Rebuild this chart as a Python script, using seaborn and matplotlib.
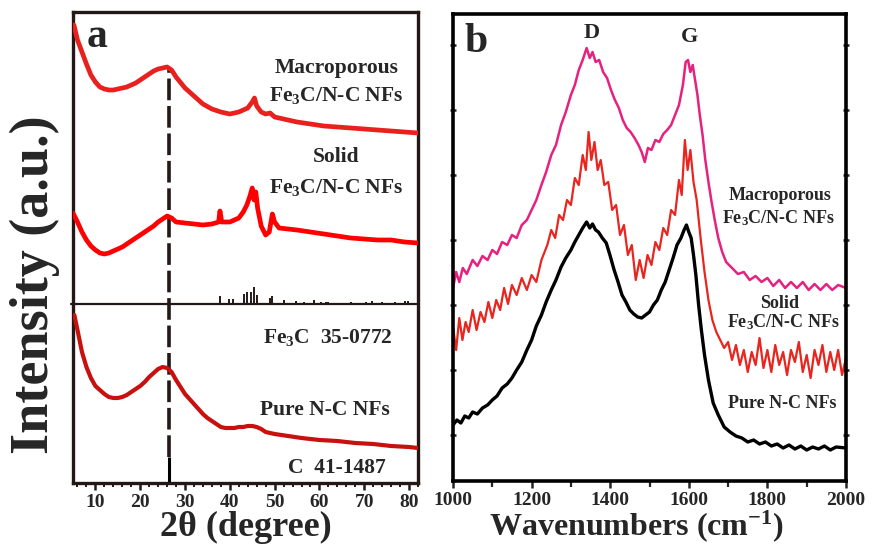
import matplotlib
matplotlib.use('Agg')
import matplotlib.pyplot as plt
import seaborn as sns
from matplotlib.ticker import MultipleLocator, NullFormatter

# ---- panel a: XRD (2theta in degree, intensity in a.u., curves stacked) ----
tt_macro = [5.2, 6, 7, 8, 9, 10, 11, 12, 13, 14, 15, 16, 17, 18, 19, 20, 21, 22, 23, 24, 25, 26,
            27, 28, 30, 32, 34, 36, 38, 40, 42, 43, 44, 45, 45.5, 46, 47, 48, 49, 50, 52, 55, 58,
            61, 64, 67, 70, 73, 76, 79, 82]
i_macro = [475, 460, 448, 436, 425, 418, 413, 411, 410, 410, 411, 412, 413, 415, 417, 420, 423, 426,
           429, 431, 432, 433, 430, 423, 412, 404, 396, 391, 388, 386, 388, 390, 392, 398, 402, 394,
           388, 386, 387, 383, 381, 378, 376, 374, 373, 372, 371, 370, 369, 368, 367]

tt_solid = [5, 6, 7, 8, 9, 10, 11, 12, 13, 14, 15, 16, 17, 18, 19, 20, 21, 22, 23, 24, 25, 26, 27,
            28, 30, 32, 34, 36, 37.5, 37.8, 38.2, 40, 41, 42, 43, 43.8, 44.5, 45, 45.4, 45.8, 46.2,
            47, 48, 48.8, 49.5, 50, 51, 53, 55, 58, 61, 64, 67, 70, 73, 76, 79, 82]
i_solid = [287, 278, 268, 260, 254, 250, 247, 246, 247, 249, 251, 253, 256, 259, 262, 265, 268, 271,
           274, 278, 281, 284, 282, 278, 277, 276, 275, 276, 278, 289, 278, 278, 280, 282, 288, 295,
           304, 312, 300, 308, 292, 274, 265, 268, 286, 278, 272, 271, 270, 268, 266, 264, 262, 261,
           260, 260, 258, 257]

tt_pure = [5.3, 6, 7, 8, 9, 10, 11, 12, 13, 14, 15, 16, 17, 18, 19, 20, 21, 22, 23, 24, 25, 26, 27,
           28, 29, 30, 31, 32, 33, 34, 35, 36, 37, 38, 39, 40, 41, 42, 43, 44, 45, 46, 47, 48, 50,
           53, 56, 60, 64, 68, 72, 76, 80, 82]
i_pure = [185, 170, 148, 133, 122, 114, 110, 106, 103, 102, 102, 103, 105, 108, 111, 114, 118, 123,
          127, 131, 133, 132, 128, 120, 113, 106, 101, 96, 91, 86, 82, 79, 76, 73, 72, 72, 72, 73,
          73, 74, 74, 73, 71, 68, 66, 64, 62, 60, 59, 57, 56, 54, 53, 52]

# Fe3C reference pattern 35-0772 (sticks on a baseline)
fe3c_pos = [35.3, 37.7, 39.8, 40.7, 43.1, 43.9, 44.7, 45.3, 46.1, 48.9, 49.5, 52.2, 54.8, 56.6, 58.7,
            60.4, 61.5, 62.0, 65.8, 67.1, 70.5, 71.7, 74.0, 76.8, 79.1, 79.7]
fe3c_h = [1, 8, 5, 5, 10, 12, 12, 17, 9, 6, 8, 4, 3, 2, 4, 2, 2, 2, 1, 2, 2, 3, 2, 2, 3, 3]
fe3c_base = 196
# C reference pattern 41-1487
c_pos = [26.5]
c_h = [26]
c_base = 17
dash_top = 430

# ---- panel b: Raman (wavenumber in cm-1, intensity in a.u., curves stacked) ----
wn_macro = [1000, 1008, 1016, 1025, 1035, 1050, 1062, 1075, 1088, 1100, 1112, 1125, 1138, 1150, 1162,
            1175, 1188, 1200, 1212, 1225, 1237, 1250, 1262, 1275, 1287, 1300, 1310, 1320, 1330, 1340,
            1348, 1355, 1363, 1372, 1382, 1392, 1402, 1412, 1422, 1432, 1442, 1452, 1462, 1472, 1480,
            1488, 1496, 1505, 1515, 1525, 1535, 1545, 1555, 1565, 1575, 1585, 1592, 1598, 1604, 1610,
            1616, 1622, 1628, 1635, 1642, 1650, 1658, 1666, 1675, 1685, 1695, 1710, 1725, 1740, 1755,
            1770, 1785, 1800, 1815, 1830, 1845, 1860, 1875, 1890, 1905, 1920, 1935, 1950, 1965, 1980,
            2000]
r_macro = [212, 228, 218, 232, 226, 240, 234, 244, 240, 250, 246, 258, 255, 265, 262, 275, 280, 290,
           300, 315, 328, 345, 355, 375, 388, 405, 415, 430, 440, 452, 442, 448, 438, 440, 428, 422,
           410, 400, 392, 380, 372, 368, 362, 355, 348, 338, 352, 350, 360, 358, 366, 370, 375, 385,
           395, 415, 438, 440, 428, 435, 420, 405, 385, 365, 340, 318, 298, 280, 262, 248, 238, 232,
           226, 228, 220, 224, 218, 222, 214, 220, 212, 218, 212, 218, 210, 216, 210, 216, 210, 215,
           212]

wn_solid = [1000, 1008, 1016, 1024, 1032, 1040, 1050, 1060, 1070, 1080, 1090, 1100, 1110, 1120, 1130,
            1140, 1150, 1162, 1175, 1188, 1200, 1212, 1225, 1240, 1250, 1260, 1270, 1280, 1290, 1300,
            1310, 1320, 1330, 1338, 1345, 1352, 1360, 1368, 1376, 1385, 1395, 1405, 1415, 1425, 1435,
            1445, 1455, 1465, 1475, 1485, 1495, 1505, 1515, 1525, 1535, 1545, 1555, 1565, 1575, 1582,
            1590, 1597, 1604, 1612, 1620, 1630, 1640, 1650, 1660, 1670, 1680, 1690, 1700, 1710, 1720,
            1730, 1740, 1750, 1760, 1770, 1780, 1790, 1800, 1810, 1820, 1830, 1840, 1850, 1860, 1870,
            1880, 1890, 1900, 1910, 1920, 1930, 1940, 1950, 1960, 1970, 1980, 1990, 2000]
r_solid = [173, 150, 182, 160, 178, 168, 190, 170, 188, 178, 198, 182, 200, 190, 212, 196, 215, 205,
           222, 210, 225, 218, 240, 255, 270, 262, 285, 280, 300, 295, 322, 315, 345, 330, 368, 340,
           358, 330, 340, 315, 318, 290, 295, 265, 275, 245, 255, 220, 240, 222, 245, 235, 258, 250,
           272, 265, 290, 285, 320, 305, 360, 330, 350, 318, 300, 262, 228, 200, 180, 168, 160, 152,
           158, 140, 155, 135, 150, 128, 148, 135, 162, 132, 150, 128, 155, 135, 148, 125, 150, 138,
           158, 128, 145, 122, 150, 135, 155, 128, 148, 130, 150, 125, 142]

wn_pure = [1000, 1010, 1020, 1030, 1040, 1050, 1062, 1075, 1088, 1100, 1112, 1125, 1138, 1150, 1162,
           1175, 1188, 1200, 1212, 1225, 1237, 1250, 1262, 1275, 1287, 1300, 1310, 1320, 1330, 1340,
           1348, 1355, 1363, 1370, 1380, 1390, 1400, 1410, 1420, 1430, 1440, 1450, 1460, 1470, 1480,
           1490, 1500, 1510, 1520, 1530, 1540, 1550, 1560, 1570, 1580, 1588, 1594, 1600, 1606, 1612,
           1618, 1625, 1632, 1640, 1650, 1662, 1675, 1690, 1705, 1720, 1735, 1750, 1765, 1780, 1795,
           1810, 1825, 1840, 1855, 1870, 1885, 1900, 1915, 1930, 1945, 1960, 1975, 2000]
r_pure = [75, 80, 77, 84, 82, 88, 86, 92, 95, 100, 104, 112, 116, 122, 130, 138, 150, 160, 174, 185,
          198, 210, 220, 233, 242, 250, 258, 265, 272, 278, 272, 276, 270, 268, 262, 257, 244, 230,
          218, 205, 198, 190, 186, 183, 182, 185, 188, 195, 200, 210, 218, 230, 242, 255, 262, 270,
          275, 268, 262, 245, 225, 195, 170, 145, 120, 97, 85, 73, 68, 64, 62, 58, 60, 56, 58, 54,
          56, 52, 55, 51, 54, 50, 53, 51, 54, 50, 53, 52]

sns.set_style('ticks')
plt.rcParams['font.family'] = ['Liberation Serif', 'DejaVu Serif']
plt.rcParams['font.weight'] = 'bold'
plt.rcParams['mathtext.fontset'] = 'custom'
plt.rcParams['mathtext.rm'] = 'Liberation Serif:bold'
plt.rcParams['mathtext.bf'] = 'Liberation Serif:bold'
plt.rcParams['mathtext.it'] = 'Liberation Serif:bold'
plt.rcParams['mathtext.default'] = 'bf'

fig = plt.figure(figsize=(8.73, 5.5), dpi=100)
ax1 = fig.add_axes([73 / 873, 67 / 550, 345 / 873, 471 / 550])
ax2 = fig.add_axes([453 / 873, 69 / 550, 393 / 873, 467 / 550])

# panel a
dark = '#231815'
ax1.vlines(c_pos[0], c_base + c_h[0], dash_top, color=dark, lw=2.6, linestyles=(0, (6, 1.6)), zorder=3)
sns.lineplot(x=tt_macro, y=i_macro, ax=ax1, color='#e8211f', lw=3.4, sort=False, zorder=4)
sns.lineplot(x=tt_solid, y=i_solid, ax=ax1, color='#ff0000', lw=3.4, sort=False, zorder=4)
sns.lineplot(x=tt_pure, y=i_pure, ax=ax1, color='#c8100e', lw=3.0, sort=False, zorder=4)
ax1.axhline(fe3c_base, color=dark, lw=1.6, clip_on=False, xmin=-0.006)
ax1.vlines(fe3c_pos, fe3c_base, [fe3c_base + h for h in fe3c_h], color=dark, lw=1.4)
ax1.vlines(c_pos, c_base, [c_base + h for h in c_h], color='black', lw=2.2)

ax1.set_xlim(5, 82)
ax1.set_ylim(17, 488)
ax1.xaxis.set_major_locator(MultipleLocator(10))
ax1.xaxis.set_minor_locator(MultipleLocator(2))
ax1.set_yticks([])
ax1.tick_params(axis='x', which='major', direction='out', length=5, width=1.8, labelsize=14,
                pad=3, color=dark)
ax1.tick_params(axis='x', which='minor', direction='out', length=3, width=1.4, color=dark)
for s in ax1.spines.values():
    s.set_linewidth(2.4)
    s.set_color(dark)
ax1.set_xlabel('2θ (degree)', fontsize=26, fontweight='bold', labelpad=0)

ax1.text(8.0, 463, 'a', fontsize=30, fontweight='bold', ha='left', va='center')
fs_a = 15.5
ax1.text(63.8, 432, 'Macroporous', fontsize=fs_a, ha='center', va='center')
ax1.text(63.8, 404, 'Fe$_3$C/N-C NFs', fontsize=fs_a, ha='center', va='center')
ax1.text(63.8, 343, 'Solid', fontsize=fs_a, ha='center', va='center')
ax1.text(63.8, 312, 'Fe$_3$C/N-C NFs', fontsize=fs_a, ha='center', va='center')
ax1.text(61.8, 163, 'Fe$_3$C  35-0772', fontsize=fs_a, ha='center', va='center')
ax1.text(61.3, 90, 'Pure N-C NFs', fontsize=fs_a, ha='center', va='center')
ax1.text(63.8, 32, 'C  41-1487', fontsize=fs_a, ha='center', va='center')

# panel b
sns.lineplot(x=wn_macro, y=r_macro, ax=ax2, color='#e6217f', lw=1.8, sort=False)
sns.lineplot(x=wn_solid, y=r_solid, ax=ax2, color='#e8251f', lw=1.6, sort=False)
sns.lineplot(x=wn_pure, y=r_pure, ax=ax2, color='black', lw=2.4, sort=False)

ax2.set_xlim(1000, 2000)
ax2.set_ylim(19, 486)
ax2.xaxis.set_major_locator(MultipleLocator(200))
ax2.xaxis.set_minor_locator(MultipleLocator(100))
ax2.yaxis.set_major_locator(MultipleLocator(65))
ax2.yaxis.set_major_formatter(NullFormatter())
ax2.tick_params(axis='x', which='major', direction='out', length=5, width=1.8, labelsize=14, pad=3)
ax2.tick_params(axis='x', which='minor', direction='out', length=4, width=1.6)
ax2.tick_params(axis='y', which='major', direction='inout', length=4, width=1.8, left=True, right=True)
for s in ax2.spines.values():
    s.set_linewidth(2.6)
    s.set_color('black')
ax2.set_xlabel('Wavenumbers (cm$^{-1}$)', fontsize=23, fontweight='bold', labelpad=0)
ax2.xaxis.set_label_coords(0.468, -0.058)

ax2.text(1030, 458, 'b', fontsize=30, fontweight='bold', ha='left', va='center')
ax2.text(1354, 467, 'D', fontsize=16, ha='center', va='center')
ax2.text(1603, 463, 'G', fontsize=16, ha='center', va='center')
fs_b = 13
ax2.text(1832, 305, 'Macroporous', fontsize=fs_b, ha='center', va='center')
ax2.text(1828, 282, 'Fe$_3$C/N-C NFs', fontsize=fs_b, ha='center', va='center')
ax2.text(1832, 197, 'Solid', fontsize=fs_b, ha='center', va='center')
ax2.text(1840, 178, 'Fe$_3$C/N-C NFs', fontsize=fs_b, ha='center', va='center')
ax2.text(1837, 97, 'Pure N-C NFs', fontsize=fs_b, ha='center', va='center')

fig.text(0.040, 0.483, 'Intensity (a.u.)', rotation=90, fontsize=39, fontweight='bold',
         ha='center', va='center')

fig.savefig('out.png', dpi=100)
